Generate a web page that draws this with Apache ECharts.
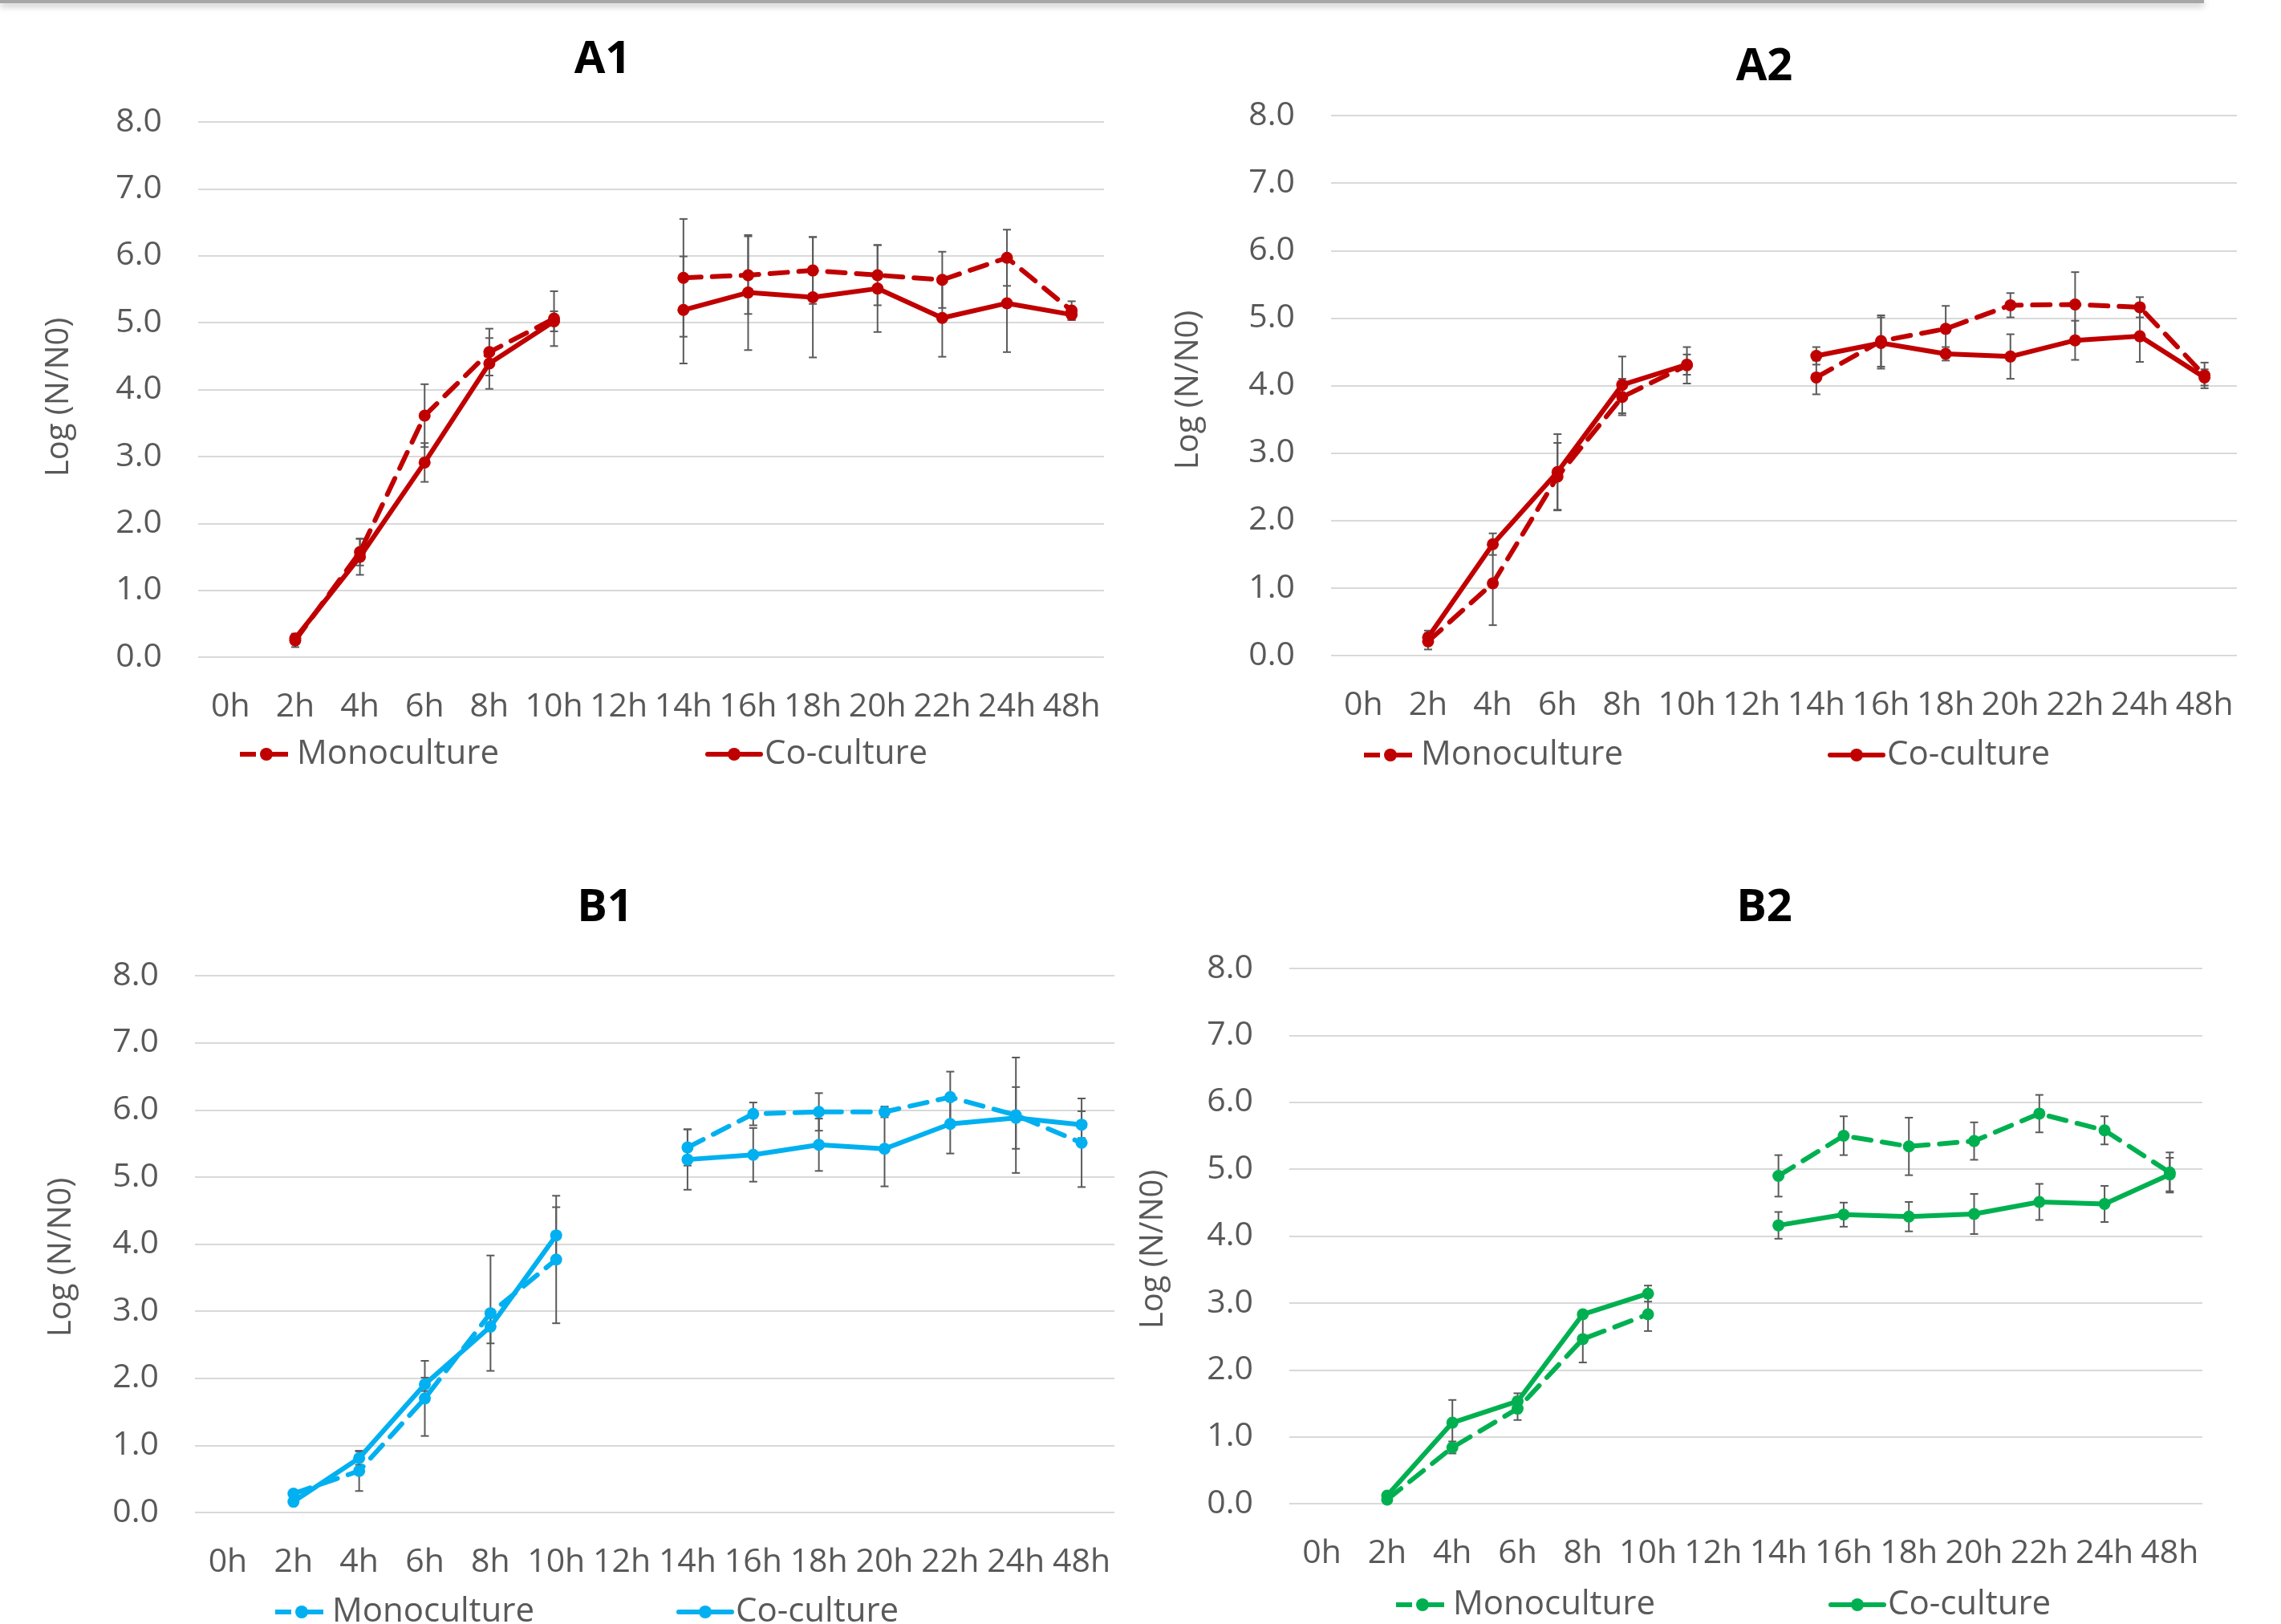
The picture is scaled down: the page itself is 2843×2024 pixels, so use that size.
<!DOCTYPE html>
<html>
<head>
<meta charset="utf-8">
<script src="https://cdn.jsdelivr.net/npm/echarts@6/dist/echarts.min.js"></script>
<style>html,body{margin:0;padding:0;background:#fff}#c{width:2843px;height:2024px}</style>
</head>
<body>
<div id="c"></div>
<script>
const categories = ['0h','2h','4h','6h','8h','10h','12h','14h','16h','18h','20h','22h','24h','48h'];
const yTicks = [0,1,2,3,4,5,6,7,8];

const a1Mono    = [null,0.25,1.57,3.61,4.56,5.06,null,5.67,5.71,5.78,5.71,5.64,5.97,5.18];
const a1MonoErr = [null,0.10,0.20,0.47,0.35,0.41,null,0.88,0.58,0.50,0.45,0.42,0.42,0.14];
const a1Co      = [null,0.28,1.50,2.91,4.39,5.02,null,5.19,5.45,5.38,5.51,5.07,5.29,5.12];
const a1CoErr   = [null,0.07,0.27,0.29,0.38,0.15,null,0.80,0.86,0.90,0.65,0.58,0.73,0.08];

const a2Mono    = [null,0.21,1.07,2.65,3.83,4.30,null,4.12,4.66,4.84,5.19,5.20,5.16,4.15];
const a2MonoErr = [null,0.12,0.62,0.50,0.27,0.27,null,0.25,0.38,0.34,0.18,0.48,0.15,0.19];
const a2Co      = [null,0.27,1.65,2.72,4.01,4.31,null,4.44,4.63,4.47,4.43,4.67,4.73,4.12];
const a2CoErr   = [null,0.10,0.16,0.56,0.42,0.15,null,0.13,0.38,0.10,0.33,0.29,0.38,0.12];

const b1Mono    = [null,0.28,0.62,1.70,2.97,3.77,null,5.44,5.94,5.97,5.97,6.19,5.92,5.51];
const b1MonoErr = [null,0.05,0.30,0.56,0.86,0.95,null,0.27,0.17,0.28,0.08,0.38,0.86,0.66];
const b1Co      = [null,0.16,0.81,1.91,2.77,4.13,null,5.26,5.33,5.48,5.42,5.79,5.88,5.78];
const b1CoErr   = [null,0.05,0.10,0.10,0.25,0.42,null,0.45,0.40,0.39,0.56,0.44,0.46,0.20];

const b2Mono    = [null,0.06,0.84,1.42,2.46,2.83,null,4.90,5.50,5.34,5.42,5.83,5.58,4.95];
const b2MonoErr = [null,0.04,0.09,0.17,0.35,0.25,null,0.31,0.29,0.43,0.28,0.28,0.21,0.30];
const b2Co      = [null,0.12,1.21,1.53,2.83,3.14,null,4.16,4.32,4.29,4.33,4.51,4.48,4.92];
const b2CoErr   = [null,0.04,0.34,0.12,0.05,0.12,null,0.20,0.18,0.22,0.30,0.27,0.27,0.25];

const panels = [
  {title:'A1', color:'#C00000', mono:a1Mono, monoErr:a1MonoErr, co:a1Co, coErr:a1CoErr,
   grid:{left:247, top:152, width:1129, height:667}, titlePos:[751,45], yName:[74,495],
   legMono:[296,918], legCo:[879,918]},
  {title:'A2', color:'#C00000', mono:a2Mono, monoErr:a2MonoErr, co:a2Co, coErr:a2CoErr,
   grid:{left:1659, top:144, width:1129, height:673}, titlePos:[2199,54], yName:[1482,486],
   legMono:[1697,919], legCo:[2278,919]},
  {title:'B1', color:'#00B0F0', mono:b1Mono, monoErr:b1MonoErr, co:b1Co, coErr:b1CoErr,
   grid:{left:243, top:1216, width:1146, height:669}, titlePos:[754,1102], yName:[77,1567],
   legMono:[340,1987], legCo:[843,1987]},
  {title:'B2', color:'#00B050', mono:b2Mono, monoErr:b2MonoErr, co:b2Co, coErr:b2CoErr,
   grid:{left:1607, top:1207, width:1138, height:667}, titlePos:[2199,1102], yName:[1438,1557],
   legMono:[1737,1978], legCo:[2279,1978]}
];

const FONT = 'Open Sans';
const GRAY = '#595959';
const LW = 6;
const DASH = [22, 14];
const LEG_DASH = [20, 10, 30, 10];

function errData(vals, errs) {
  const out = [];
  vals.forEach((v, i) => { if (v != null) out.push([i, v - errs[i], v + errs[i]]); });
  return out;
}
function errRender(params, api) {
  const x = api.value(0);
  const p1 = api.coord([x, api.value(2)]);
  const p2 = api.coord([x, api.value(1)]);
  const w = 5;
  const style = {stroke: '#5a5a5a', lineWidth: 2};
  return {type:'group', children:[
    {type:'line', shape:{x1:p1[0], y1:p1[1], x2:p2[0], y2:p2[1]}, style},
    {type:'line', shape:{x1:p1[0]-w, y1:p1[1], x2:p1[0]+w, y2:p1[1]}, style},
    {type:'line', shape:{x1:p2[0]-w, y1:p2[1], x2:p2[0]+w, y2:p2[1]}, style}
  ]};
}

const option = {
  backgroundColor: '#ffffff',
  animation: false,
  title: [], grid: [], xAxis: [], yAxis: [], series: [], legend: [],
  graphic: [
    {type:'rect', shape:{x:0, y:0, width:2747, height:4},
     style:{fill:'#a6a6a6', shadowBlur:8, shadowOffsetY:3, shadowColor:'rgba(0,0,0,0.35)'}}
  ]
};

panels.forEach((p, k) => {
  option.title.push({
    text: p.title, left: p.titlePos[0], top: p.titlePos[1], textAlign: 'center', padding: 0,
    textStyle: {fontFamily: FONT, fontWeight: 'bold', fontSize: 56, lineHeight: 60, color: '#000'}
  });
  option.grid.push(Object.assign({containLabel:false}, p.grid));
  option.xAxis.push({
    type: 'category', gridIndex: k, data: categories, boundaryGap: true,
    axisLine: {show: false}, axisTick: {show: false},
    axisLabel: {interval: 0, margin: 42, fontFamily: FONT, fontSize: 41, lineHeight: 41, color: GRAY}
  });
  option.yAxis.push({
    type: 'value', gridIndex: k, min: yTicks[0], max: yTicks[yTicks.length-1], interval: 1,
    axisLine: {show: false}, axisTick: {show: false},
    splitLine: {lineStyle: {color: '#d9d9d9', width: 2}},
    axisLabel: {margin: 45, fontFamily: FONT, fontSize: 41, color: GRAY, formatter: v => v.toFixed(1)}
  });
  option.graphic.push({
    type: 'text', x: p.yName[0], y: p.yName[1], rotation: Math.PI/2,
    style: {text: 'Log (N/N0)', fontFamily: FONT, fontSize: 40, fill: GRAY, align: 'center', verticalAlign: 'middle'}
  });
  option.series.push({
    type: 'custom', xAxisIndex: k, yAxisIndex: k, z: 1, silent: true,
    data: errData(p.mono, p.monoErr), encode: {x: 0, y: [1, 2]}, renderItem: errRender
  });
  option.series.push({
    type: 'custom', xAxisIndex: k, yAxisIndex: k, z: 1, silent: true,
    data: errData(p.co, p.coErr), encode: {x: 0, y: [1, 2]}, renderItem: errRender
  });
  option.series.push({
    name: 'Monoculture', type: 'line', xAxisIndex: k, yAxisIndex: k, z: 3,
    data: p.mono, connectNulls: false, symbol: 'circle', symbolSize: 15, showSymbol: true,
    itemStyle: {color: p.color},
    lineStyle: {color: p.color, width: LW, type: DASH, cap: 'round'}
  });
  option.series.push({
    name: 'Co-culture', type: 'line', xAxisIndex: k, yAxisIndex: k, z: 3,
    data: p.co, connectNulls: false, symbol: 'circle', symbolSize: 15, showSymbol: true,
    itemStyle: {color: p.color},
    lineStyle: {color: p.color, width: LW, type: 'solid', cap: 'round'}
  });
  const legBase = {
    orient: 'horizontal', padding: 0, itemWidth: 66, itemHeight: 20, selectedMode: false,
    textStyle: {fontFamily: FONT, fontSize: 42, lineHeight: 44, color: GRAY}
  };
  option.legend.push(Object.assign({}, legBase, {
    left: p.legMono[0], top: p.legMono[1],
    data: [{name: 'Monoculture', itemStyle: {color: p.color},
            lineStyle: {color: p.color, width: 6, type: LEG_DASH, cap: 'butt'}}]
  }));
  option.legend.push(Object.assign({}, legBase, {
    left: p.legCo[0], top: p.legCo[1],
    data: [{name: 'Co-culture', itemStyle: {color: p.color},
            lineStyle: {color: p.color, width: 6, type: 'solid', cap: 'round'}}]
  }));
});

const chart = echarts.init(document.getElementById('c'), null, {renderer: 'canvas', width: 2843, height: 2024});
chart.setOption(option);
</script>
</body>
</html>
